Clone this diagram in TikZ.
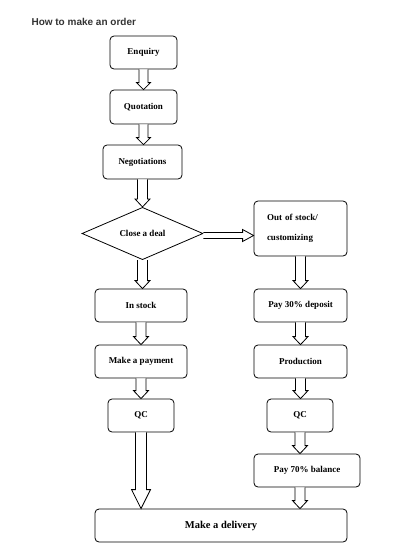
\documentclass[tikz,border=0pt]{standalone}
\usepackage{fontspec}
\setmainfont{Liberation Serif}
\newfontfamily\titlefont{Liberation Sans}
\usetikzlibrary{shapes.geometric,calc}
\tikzset{
  box/.style={draw, line width=0.8pt, rounded corners=4pt, font=\bfseries\fontsize{9}{11}\selectfont, inner sep=0pt},
  blockarrow/.style={draw, line width=0.8pt, fill=white},
}
\newcommand{\varr}[6]{%
  \draw[blockarrow] let \p0=(#1.center), \p1=(#2.south), \p2=(#3.north) in
    (\x0-#4,\y1) -- (\x0-#4,\y2+#6) -- (\x0-#5,\y2+#6) -- (\x0,\y2)
    -- (\x0+#5,\y2+#6) -- (\x0+#4,\y2+#6) -- (\x0+#4,\y1);}
\newcommand{\harr}[2]{%
  \draw[blockarrow] let \p1=(#1.east), \p2=(#2.west) in
    (\x1,\y1+1pt) -- (\x2-11pt,\y1+1pt) -- (\x2-11pt,\y1+4pt) -- (\x2,\y1-2pt)
    -- (\x2-11pt,\y1-8pt) -- (\x2-11pt,\y1-5pt) -- (\x1,\y1-5pt);}
\begin{document}
\begin{tikzpicture}[x=1pt,y=-1pt]
\useasboundingbox (0,0) rectangle (405,555);
\node[anchor=west, font=\titlefont\bfseries\fontsize{10}{12}\selectfont, text=black!80] (title) at (28,22) {How to make an order};
\node[box, minimum width=67pt, minimum height=33pt] (enq) at (143.5,52.5) {Enquiry};
\node[box, minimum width=67pt, minimum height=34pt] (quo) at (143.5,107) {Quotation};
\node[box, minimum width=79pt, minimum height=34pt] (neg) at (142.5,162) {Negotiations};
\node[draw, line width=0.8pt, diamond, minimum width=121pt, minimum height=43pt, inner sep=0pt, font=\bfseries\fontsize{9}{11}\selectfont] (deal) at (142.5,233.5) {Close a deal};
\node[box, minimum width=93pt, minimum height=55pt, text width=67pt, align=left] (out) at (300.5,228.5) {Out of stock/\\[9pt]customizing};
\node[box, minimum width=92pt, minimum height=33pt] (instock) at (141,305.5) {In stock};
\node[box, minimum width=93pt, minimum height=33pt] (pay30) at (300.5,305.5) {Pay 30\% deposit};
\node[box, minimum width=92pt, minimum height=33pt] (payment) at (141,361.5) {Make a payment};
\node[box, minimum width=93pt, minimum height=33pt] (prod) at (300.5,361.5) {Production};
\node[box, minimum width=66pt, minimum height=33pt] (qcl) at (141,415.5) {QC};
\node[box, minimum width=66pt, minimum height=33pt] (qcr) at (300,415.5) {QC};
\node[box, minimum width=106pt, minimum height=33pt] (pay70) at (307,470.5) {Pay 70\% balance};
\node[box, minimum width=252pt, minimum height=33pt, font=\bfseries\fontsize{10.5}{12}\selectfont] (del) at (221,525.5) {Make a delivery};
\varr{enq}{enq}{quo}{4.5pt}{7pt}{7pt}
\varr{quo}{quo}{neg}{4.5pt}{7pt}{7pt}
\varr{deal}{neg}{deal}{5pt}{7.5pt}{8pt}
\varr{deal}{deal}{instock}{5pt}{7.5pt}{8pt}
\varr{instock}{instock}{payment}{5pt}{7.5pt}{8pt}
\varr{payment}{payment}{qcl}{5pt}{7.5pt}{8pt}
\varr{qcl}{qcl}{del}{5.5pt}{9.5pt}{19pt}
\harr{deal}{out}
\varr{out}{out}{pay30}{5pt}{7.5pt}{8pt}
\varr{pay30}{pay30}{prod}{5pt}{7.5pt}{8pt}
\varr{prod}{prod}{qcr}{5pt}{7.5pt}{8pt}
\varr{qcr}{qcr}{pay70}{5pt}{7.5pt}{8pt}
\varr{qcr}{pay70}{del}{5pt}{7.5pt}{8pt}
\end{tikzpicture}
\end{document}
